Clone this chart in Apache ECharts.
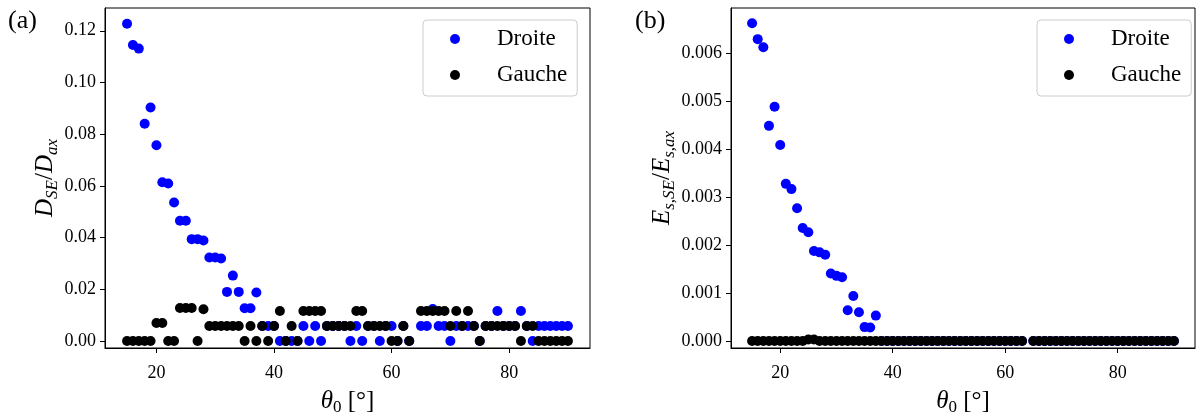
<!DOCTYPE html>
<html>
<head>
<meta charset="utf-8">
<script src="https://cdn.jsdelivr.net/npm/echarts@6/dist/echarts.min.js"></script>
<style>
  html, body { margin: 0; padding: 0; background: #fff; }
  #chart { width: 1203px; height: 414px; }
</style>
</head>
<body>
<div id="chart"></div>
<script>
// angle theta_0 in degrees (64 is missing in the data)
const theta = [
  15, 16, 17, 18, 19, 20, 21, 22, 23, 24, 25, 26, 27, 28, 29, 30, 31, 32, 33, 34,
  35, 36, 37, 38, 39, 40, 41, 42, 43, 44, 45, 46, 47, 48, 49, 50, 51, 52, 53, 54,
  55, 56, 57, 58, 59, 60, 61, 62, 63, 65, 66, 67, 68, 69, 70, 71, 72, 73, 74, 75,
  76, 77, 78, 79, 80, 81, 82, 83, 84, 85, 86, 87, 88, 89, 90
];

// (a) D_SE / D_ax
const droiteA = [
  0.1227, 0.1145, 0.1131, 0.0840, 0.0903, 0.0757, 0.0614, 0.0609, 0.0536, 0.0465,
  0.0465, 0.0394, 0.0394, 0.0389, 0.0323, 0.0323, 0.0319, 0.0190, 0.0253, 0.0190,
  0.0127, 0.0127, 0.0188, 0.0058, 0.0058, 0.0058, 0, 0, 0, 0,
  0.0058, 0, 0.0058, 0, 0.0058, 0.0058, 0.0058, 0.0058, 0, 0.0058,
  0, 0.0058, 0.0058, 0, 0.0058, 0.0058, 0, 0.0058, 0, 0.0058,
  0.0058, 0.0124, 0.0058, 0.0058, 0, 0.0058, 0.0058, 0.0058, 0.0058, 0,
  0.0058, 0.0058, 0.0116, 0.0058, 0.0058, 0.0058, 0.0116, 0.0058, 0, 0.0058,
  0.0058, 0.0058, 0.0058, 0.0058, 0.0058
];
const gaucheA = [
  0, 0, 0, 0, 0, 0.0070, 0.0070, 0, 0, 0.0128,
  0.0128, 0.0128, 0, 0.0123, 0.0058, 0.0058, 0.0058, 0.0058, 0.0058, 0.0058,
  0, 0.0058, 0, 0.0058, 0, 0.0058, 0.0116, 0, 0.0058, 0,
  0.0116, 0.0116, 0.0116, 0.0116, 0.0058, 0.0058, 0.0058, 0.0058, 0.0058, 0.0116,
  0.0116, 0.0058, 0.0058, 0.0058, 0.0058, 0, 0, 0.0058, 0, 0.0116,
  0.0116, 0.0116, 0.0116, 0.0116, 0.0058, 0.0116, 0.0058, 0.0116, 0.0058, 0,
  0.0058, 0.0058, 0.0058, 0.0058, 0.0058, 0.0058, 0, 0.0058, 0.0058, 0,
  0, 0, 0, 0, 0
];

// (b) E_s,SE / E_s,ax
const droiteB = [
  0.00663, 0.00630, 0.00613, 0.00449, 0.00489, 0.00409, 0.00328, 0.00317, 0.00277, 0.00236,
  0.00227, 0.00188, 0.00185, 0.00180, 0.00141, 0.00136, 0.00133, 0.00064, 0.00094, 0.00060,
  0.00029, 0.00028, 0.00053, 0, 0, 0, 0, 0, 0, 0,
  0, 0, 0, 0, 0, 0, 0, 0, 0, 0,
  0, 0, 0, 0, 0, 0, 0, 0, 0, 0,
  0, 0, 0, 0, 0, 0, 0, 0, 0, 0,
  0, 0, 0, 0, 0, 0, 0, 0, 0, 0,
  0, 0, 0, 0, 0
];
const gaucheB = [
  0, 0, 0, 0, 0, 0, 0, 0, 0, 0,
  0.00003, 0.00003, 0, 0, 0, 0, 0, 0, 0, 0,
  0, 0, 0, 0, 0, 0, 0, 0, 0, 0,
  0, 0, 0, 0, 0, 0, 0, 0, 0, 0,
  0, 0, 0, 0, 0, 0, 0, 0, 0, 0,
  0, 0, 0, 0, 0, 0, 0, 0, 0, 0,
  0, 0, 0, 0, 0, 0, 0, 0, 0, 0,
  0, 0, 0, 0, 0
];

const xTicks = [20, 40, 60, 80];
const yTicksA = [0, 0.02, 0.04, 0.06, 0.08, 0.10, 0.12];
const yTicksB = [0, 0.001, 0.002, 0.003, 0.004, 0.005, 0.006];

const FONT = 'Liberation Serif';

const pairs = (ys) => theta.map((t, i) => [t, ys[i]]);

const labelRich = {
  i: { fontFamily: FONT, fontStyle: 'italic', fontSize: 25, color: '#000' },
  n: { fontFamily: FONT, fontSize: 25, color: '#000' },
  s: { fontFamily: FONT, fontStyle: 'italic', fontSize: 17, color: '#000', padding: [13, 0, 0, 0] },
  u: { fontFamily: FONT, fontSize: 17, color: '#000', padding: [13, 0, 0, 0] },
};

function xAxisOf(gridIndex) {
  return {
    type: 'value',
    gridIndex,
    min: 11.25,
    max: 93.75,
    name: '{i|θ}{u|0}{n| [°]}',
    nameLocation: 'middle',
    nameGap: 38,
    nameTextStyle: { rich: labelRich },
    axisLine: { show: true, onZero: false, lineStyle: { color: '#000', width: 1 } },
    axisTick: { show: true, length: 5, customValues: xTicks, lineStyle: { color: '#000' } },
    axisLabel: { customValues: xTicks, fontFamily: FONT, fontSize: 18, color: '#000', margin: 16 },
    splitLine: { show: false },
  };
}

function yAxisOf(gridIndex, min, max, ticks, digits, name, gap) {
  return {
    type: 'value',
    gridIndex,
    min,
    max,
    name,
    nameLocation: 'middle',
    nameGap: gap,
    nameTextStyle: { rich: labelRich },
    axisLine: { show: true, onZero: false, lineStyle: { color: '#000', width: 1 } },
    axisTick: { show: true, length: 5, customValues: ticks, lineStyle: { color: '#000' } },
    axisLabel: {
      customValues: ticks,
      fontFamily: FONT,
      fontSize: 18,
      color: '#000',
      margin: 9,
      formatter: (v) => v.toFixed(digits),
    },
    splitLine: { show: false },
  };
}

function legendOf(left) {
  return {
    left,
    top: 20,
    orient: 'vertical',
    data: ['Droite', 'Gauche'],
    icon: 'circle',
    itemWidth: 30,
    itemHeight: 10,
    itemGap: 12,
    padding: [7, 10, 9, 27],
    backgroundColor: 'rgba(255,255,255,0.8)',
    borderColor: '#cccccc',
    borderWidth: 1,
    borderRadius: 4,
    selectedMode: false,
    textStyle: { fontFamily: FONT, fontSize: 23, color: '#000', lineHeight: 24, padding: [0, 0, 0, 22] },
  };
}

function scatter(name, color, idx, data) {
  return {
    name,
    type: 'scatter',
    xAxisIndex: idx,
    yAxisIndex: idx,
    symbolSize: 10,
    itemStyle: { color, opacity: 1 },
    data,
    animation: false,
  };
}

const chart = echarts.init(document.getElementById('chart'), null, { renderer: 'canvas' });

const gridBase = {
  top: 8,
  height: 340,
  show: true,
  borderColor: '#000',
  borderWidth: 1,
  backgroundColor: 'transparent',
  outerBoundsMode: 'none',
};

const option = {
  backgroundColor: '#fff',
  animation: false,
  grid: [
    Object.assign({ left: 105, width: 485 }, gridBase),
    Object.assign({ left: 731, width: 464 }, gridBase),
  ],
  xAxis: [xAxisOf(0), xAxisOf(1)],
  yAxis: [
    yAxisOf(0, -0.0027, 0.1288, yTicksA, 2, '{i|D}{s|SE}{n|/}{i|D}{s|ax}', 44),
    yAxisOf(1, -0.000146, 0.00695, yTicksB, 3, '{i|E}{s|s,SE}{n|/}{i|E}{s|s,ax}', 53),
  ],
  legend: [legendOf(423), legendOf(1037)],
  graphic: [
    { type: 'text', left: 8, top: 8, style: { text: '(a)', font: '26px "Liberation Serif"', fill: '#000' } },
    { type: 'text', left: 635, top: 8, style: { text: '(b)', font: '26px "Liberation Serif"', fill: '#000' } },
  ],
  series: [
    scatter('Droite', '#0000ff', 0, pairs(droiteA)),
    scatter('Gauche', '#000000', 0, pairs(gaucheA)),
    scatter('Droite', '#0000ff', 1, pairs(droiteB)),
    scatter('Gauche', '#000000', 1, pairs(gaucheB)),
  ],
};

chart.setOption(option);
</script>
</body>
</html>
